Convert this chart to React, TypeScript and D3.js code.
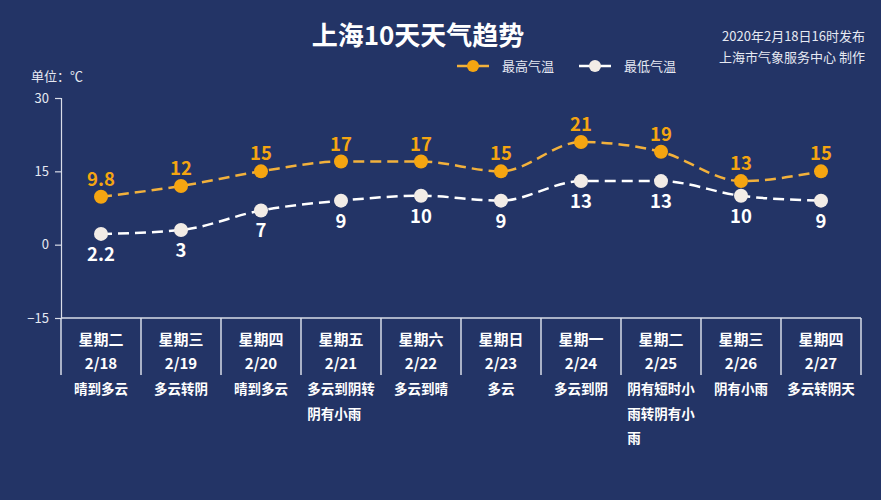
import React, { useEffect, useRef } from 'react';
import * as d3 from 'd3';

const days = ['星期二', '星期三', '星期四', '星期五', '星期六', '星期日', '星期一', '星期二', '星期三', '星期四'];
const dates = ['2/18', '2/19', '2/20', '2/21', '2/22', '2/23', '2/24', '2/25', '2/26', '2/27'];
const weather = ['晴到多云', '多云转阴', '晴到多云', '多云到阴转阴有小雨', '多云到晴', '多云', '多云到阴', '阴有短时小雨转阴有小雨', '阴有小雨', '多云转阴天'];
const highTemps = [9.8, 12, 15, 17, 17, 15, 21, 19, 13, 15];
const lowTemps = [2.2, 3, 7, 9, 10, 9, 13, 13, 10, 9];
const yTicks = [-15, 0, 15, 30];

const FONT = '"Noto Sans CJK SC", "Microsoft YaHei", sans-serif';
const BG = '#233466';
const ORANGE = '#f5a511';
const LINE_ORANGE = '#f2b13c';
const WHITE = '#f2ece6';
const AXIS = '#d9dde8';

export default function App() {
    const ref = useRef<SVGSVGElement>(null);

    useEffect(() => {
        if (!ref.current) return;
        const svg = d3.select(ref.current);
        svg.selectAll('*').remove();

        const width = 881;
        const height = 500;
        const left = 61, right = 861, top = 98, bottom = 318;

        svg.append('rect').attr('width', width).attr('height', height).attr('fill', BG);

        const x = d3.scaleBand<number>()
            .domain(d3.range(days.length))
            .range([left, right])
            .padding(0);
        const cx = (i: number) => x(i)! + x.bandwidth() / 2;

        const y = d3.scaleLinear().domain([-15, 30]).range([bottom, top]);

        // Title
        svg.append('text')
            .attr('x', 418).attr('y', 45)
            .attr('text-anchor', 'middle')
            .attr('font-family', FONT).attr('font-size', 26).attr('font-weight', 'bold')
            .attr('fill', '#ffffff')
            .text('上海10天天气趋势');

        // Issue info
        const info = ['2020年2月18日16时发布', '上海市气象服务中心 制作'];
        info.forEach((t, i) => {
            svg.append('text')
                .attr('x', 865).attr('y', 41 + i * 21)
                .attr('text-anchor', 'end')
                .attr('font-family', FONT).attr('font-size', 13)
                .attr('fill', '#e6e9f2')
                .text(t);
        });

        // Unit
        svg.append('text')
            .attr('x', 31).attr('y', 81)
            .attr('font-family', FONT).attr('font-size', 13)
            .attr('fill', '#e6e9f2')
            .text('单位：℃');

        // Legend
        const legend = [
            { label: '最高气温', line: LINE_ORANGE, dot: ORANGE, x: 457 },
            { label: '最低气温', line: '#ffffff', dot: WHITE, x: 579 },
        ];
        legend.forEach(l => {
            const g = svg.append('g');
            g.append('line')
                .attr('x1', l.x).attr('x2', l.x + 32).attr('y1', 66).attr('y2', 66)
                .attr('stroke', l.line).attr('stroke-width', 2.5);
            g.append('circle')
                .attr('cx', l.x + 16).attr('cy', 66).attr('r', 6)
                .attr('fill', l.dot);
            g.append('text')
                .attr('x', l.x + 45).attr('y', 71)
                .attr('font-family', FONT).attr('font-size', 13)
                .attr('fill', '#e6e9f2')
                .text(l.label);
        });

        // Y axis
        const yAxis = svg.append('g')
            .attr('transform', `translate(${left},0)`)
            .call(d3.axisLeft(y).tickValues(yTicks).tickSize(6).tickPadding(6));
        yAxis.select('.domain').attr('stroke', AXIS).attr('stroke-width', 1.2);
        yAxis.selectAll('.tick line').attr('stroke', AXIS).attr('stroke-width', 1.2);
        yAxis.selectAll('.tick text')
            .attr('fill', '#e6e9f2')
            .attr('font-family', FONT).attr('font-size', 13);

        // Bottom axis line and dividers
        svg.append('line')
            .attr('x1', left).attr('x2', right).attr('y1', bottom).attr('y2', bottom)
            .attr('stroke', AXIS).attr('stroke-width', 1.5);
        d3.range(days.length + 1).forEach(i => {
            const xx = i < days.length ? x(i)! : right;
            svg.append('line')
                .attr('x1', xx).attr('x2', xx).attr('y1', bottom).attr('y2', 375)
                .attr('stroke', AXIS).attr('stroke-width', 1.5);
        });

        // Category labels
        days.forEach((d, i) => {
            svg.append('text')
                .attr('x', cx(i)).attr('y', 345)
                .attr('text-anchor', 'middle')
                .attr('font-family', FONT).attr('font-size', 15).attr('font-weight', 'bold')
                .attr('fill', '#ffffff')
                .text(d);
            svg.append('text')
                .attr('x', cx(i)).attr('y', 369)
                .attr('text-anchor', 'middle')
                .attr('font-family', FONT).attr('font-size', 15).attr('font-weight', 'bold')
                .attr('fill', '#ffffff')
                .text(dates[i]);
            const w = weather[i];
            const fs = 13.5;
            if (w.length <= 5) {
                svg.append('text')
                    .attr('x', cx(i)).attr('y', 394)
                    .attr('text-anchor', 'middle')
                    .attr('font-family', FONT).attr('font-size', fs).attr('font-weight', 'bold')
                    .attr('fill', '#ffffff')
                    .text(w);
            } else {
                const chunks: string[] = [];
                for (let k = 0; k < w.length; k += 5) chunks.push(w.slice(k, k + 5));
                chunks.forEach((c, k) => {
                    svg.append('text')
                        .attr('x', cx(i) - (5 * fs) / 2).attr('y', 394 + k * 24.5)
                        .attr('font-family', FONT).attr('font-size', fs).attr('font-weight', 'bold')
                        .attr('fill', '#ffffff')
                        .text(c);
                });
            }
        });

        // Lines
        const line = d3.line<number>()
            .x((_, i) => cx(i))
            .y(d => y(d))
            .curve(d3.curveMonotoneX);

        const series = [
            { data: highTemps, line: LINE_ORANGE, dot: ORANGE, label: ORANGE, dy: -11 },
            { data: lowTemps, line: '#ffffff', dot: WHITE, label: '#ffffff', dy: 27 },
        ];

        series.forEach(s => {
            svg.append('path')
                .attr('d', line(s.data)!)
                .attr('fill', 'none')
                .attr('stroke', s.line)
                .attr('stroke-width', 2.5)
                .attr('stroke-dasharray', '11,6');
        });

        series.forEach(s => {
            svg.selectAll(null)
                .data(s.data)
                .enter()
                .append('circle')
                .attr('cx', (_, i) => cx(i))
                .attr('cy', d => y(d))
                .attr('r', 7)
                .attr('fill', s.dot);
            svg.selectAll(null)
                .data(s.data)
                .enter()
                .append('text')
                .attr('x', (_, i) => cx(i))
                .attr('y', d => y(d) + s.dy)
                .attr('text-anchor', 'middle')
                .attr('font-family', FONT).attr('font-size', 18.5).attr('font-weight', 'bold')
                .attr('fill', s.label)
                .text(d => String(d));
        });
    }, []);

    return (
        <>
            <style>{`body{margin:0;background:${BG}}`}</style>
            <svg ref={ref} width={881} height={500} style={{ display: 'block' }} />
        </>
    );
}
